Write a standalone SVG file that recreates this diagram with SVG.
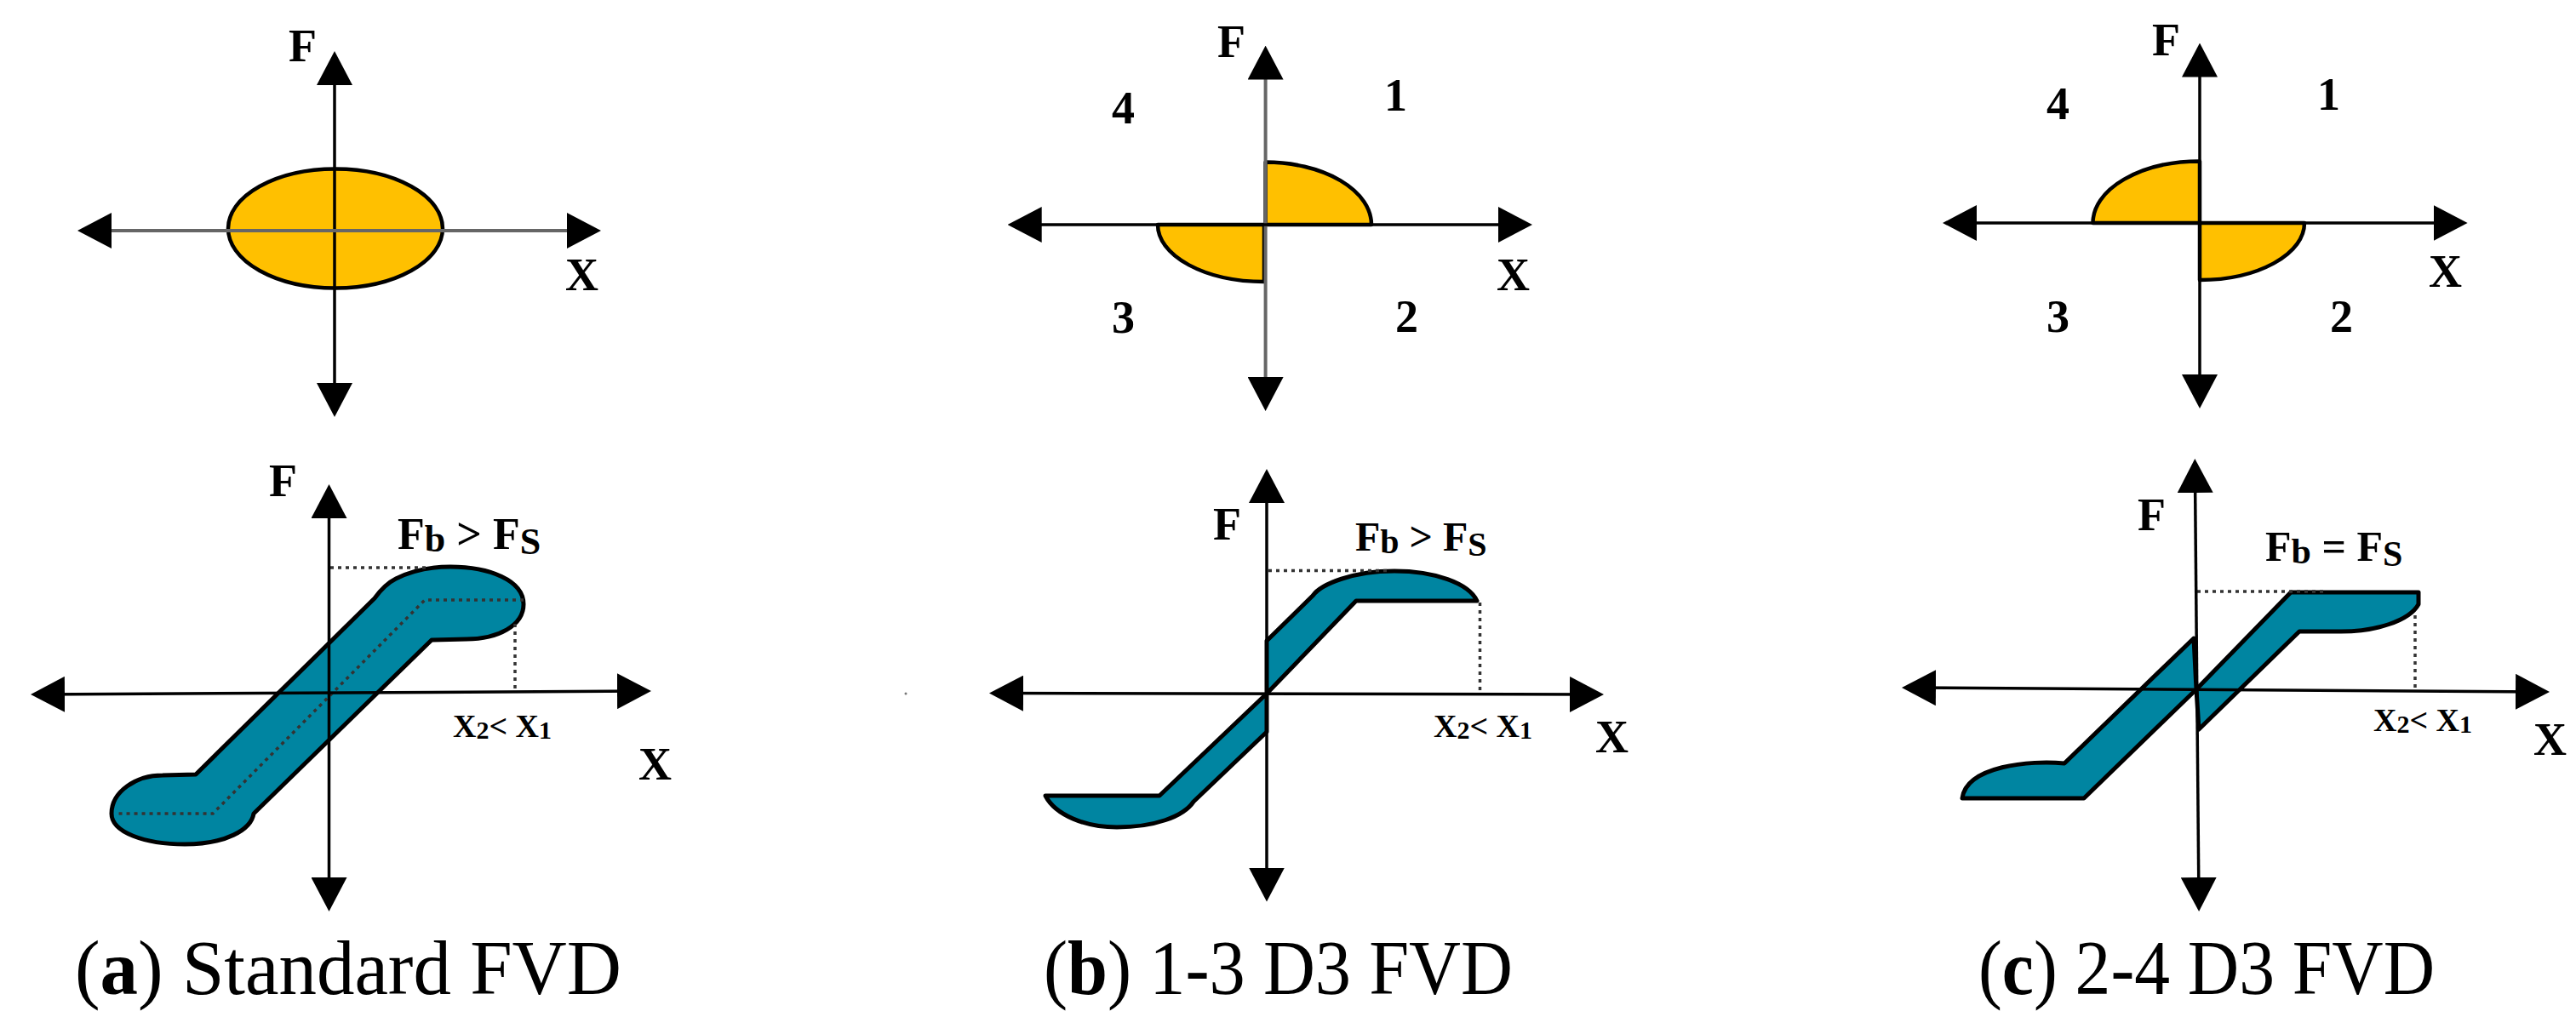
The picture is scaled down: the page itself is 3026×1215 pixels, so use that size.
<svg xmlns="http://www.w3.org/2000/svg" width="3026" height="1215" viewBox="0 0 3026 1215">
<style>
text{font-family:"Liberation Serif","Times New Roman",serif;fill:#000}
.lb{font-size:54px;font-weight:700}
.eq{font-size:52px;font-weight:700}
.eq .s{font-size:44px}
.x{font-size:38px;font-weight:700}
.x .s{font-size:30px}
.cap{font-size:90px}
.cap .b{font-weight:700}
.ax{fill:none;stroke:#000;stroke-width:3.5;marker-start:url(#ah);marker-end:url(#ah)}
.ax.g{stroke:#666;stroke-width:4}
.or{fill:#FFC000;stroke:#000;stroke-width:4.5;stroke-linejoin:round}
.te{fill:#0085A1;stroke:#000;stroke-width:5;stroke-linejoin:round}
.dot{fill:none;stroke:#333;stroke-width:3.5;stroke-dasharray:4 5}
</style>
<defs>
<marker id="ah" markerUnits="userSpaceOnUse" markerWidth="40" markerHeight="42" viewBox="0 0 40 42" refX="30" refY="21" orient="auto-start-reverse"><path d="M0,0L40,21L0,42Z" fill="#000"/></marker>
</defs>

<g id="panel-a-top">
<ellipse class="or" cx="394" cy="268.500" rx="126" ry="70"/>
<g class="connectors"><line class="ax" x1="393" y1="70" x2="393" y2="480"/><line class="ax g" x1="101" y1="271" x2="696" y2="271"/></g>
<text class="lb" x="339" y="72">F</text>
<text class="lb" x="664" y="341">X</text>
</g>

<g id="panel-a-bottom">
<path class="te" d="M440,703C448,692 455,685 465,680C485,670 505,666 529,666C575,666 615,682 615,710C615,735 585,751 548,751L507,752L298,956C295,975 265,992 217,992C170,992 131,978 131,956C131,930 160,911 191,911L230,910Z"/>
<path class="dot" d="M615,705H499L250,956H139"/>
<path class="dot" d="M388,667H504M605,733V810"/>
<g class="connectors"><line class="ax" x1="386.500" y1="579" x2="386.500" y2="1061"/><line class="ax" x1="46" y1="816" x2="755" y2="812"/></g>
<text class="lb" x="316" y="583">F</text>
<text class="eq" x="467" y="645">F<tspan class="s" dy="3">b</tspan><tspan dy="-3"> &gt; F</tspan><tspan class="s" dy="6">S</tspan></text>
<text class="x" x="532" y="866">X<tspan class="s" dy="2">2</tspan><tspan dy="-2">&lt; X</tspan><tspan class="s" dy="2">1</tspan></text>
<text class="lb" x="750" y="916">X</text>
<text class="cap" x="88" y="1168" textLength="642" lengthAdjust="spacingAndGlyphs">(<tspan class="b">a</tspan>) Standard FVD</text>
</g>

<g id="panel-b-top">
<path class="or" d="M1486.600,190.600A124.400,73.400 0 0 1 1611,264H1486.600Z"/>
<path class="or" d="M1360,264A125,67 0 0 0 1485,331V264Z"/>
<g class="connectors"><line class="ax g" x1="1486.600" y1="63.600" x2="1486.600" y2="473"/><line class="ax" x1="1193.700" y1="264" x2="1790" y2="264"/></g>
<text class="lb" x="1430" y="67">F</text>
<text class="lb" x="1626" y="130">1</text>
<text class="lb" x="1306" y="145">4</text>
<text class="lb" x="1306" y="391">3</text>
<text class="lb" x="1639" y="390">2</text>
<text class="lb" x="1758" y="340.500">X</text>
</g>

<g id="panel-b-bottom">
<path class="te" d="M1488,753L1542,700C1552,686 1590,671 1638,671C1685,671 1725,685 1735,706H1593L1488,815L1362,935H1228C1240,958 1275,972 1312,972C1355,972 1390,960 1402,942L1488,860Z"/>
<path class="dot" d="M1490,670.500H1631M1738.500,708V814"/>
<g class="connectors"><line class="ax" x1="1488" y1="561" x2="1488" y2="1049.500"/><line class="ax" x1="1172" y1="814.600" x2="1874" y2="816"/></g>
<text class="lb" x="1425" y="634">F</text>
<text class="eq" x="1592" y="647" style="font-size:48px">F<tspan class="s" dy="3" style="font-size:40px">b</tspan><tspan dy="-3"> &gt; F</tspan><tspan class="s" dy="6" style="font-size:40px">S</tspan></text>
<text class="x" x="1684" y="866">X<tspan class="s" dy="2">2</tspan><tspan dy="-2">&lt; X</tspan><tspan class="s" dy="2">1</tspan></text>
<text class="lb" x="1874" y="884">X</text>
<text class="cap" x="1226" y="1168" textLength="551" lengthAdjust="spacingAndGlyphs">(<tspan class="b">b</tspan>) 1-3 D3 FVD</text>
<circle cx="1064" cy="815" r="1.500" fill="#777"/>
</g>

<g id="panel-c-top">
<path class="or" d="M2458.500,262A125.500,72.600 0 0 1 2584,189.400V262Z"/>
<path class="or" d="M2707,262A123,67 0 0 1 2584,329V262Z"/>
<g class="connectors"><line class="ax" x1="2584" y1="60.500" x2="2584" y2="470"/><line class="ax" x1="2292" y1="262" x2="2888.600" y2="262"/></g>
<text class="lb" x="2528" y="65">F</text>
<text class="lb" x="2722" y="129">1</text>
<text class="lb" x="2404" y="140">4</text>
<text class="lb" x="2404" y="389.600">3</text>
<text class="lb" x="2737" y="389.600">2</text>
<text class="lb" x="2853" y="337">X</text>
</g>

<g id="panel-c-bottom">
<path class="te" d="M2577,750L2425,897C2385,893 2310,900 2305,938H2448L2580,810Z"/>
<path class="te" d="M2580,810L2691,696H2841V710C2830,730 2790,742 2750,742H2701L2583,857Z"/>
<path class="dot" d="M2581,695H2729M2837,723V810"/>
<g class="connectors"><line class="ax" x1="2578.400" y1="549" x2="2583" y2="1061"/><line class="ax" x1="2244" y1="808" x2="2985" y2="813"/></g>
<text class="lb" x="2511" y="623">F</text>
<text class="eq" x="2661" y="659" style="font-size:50px">F<tspan class="s" dy="3" style="font-size:42px">b</tspan><tspan dy="-3"> = F</tspan><tspan class="s" dy="6" style="font-size:42px">S</tspan></text>
<text class="x" x="2788" y="859">X<tspan class="s" dy="2">2</tspan><tspan dy="-2">&lt; X</tspan><tspan class="s" dy="2">1</tspan></text>
<text class="lb" x="2976" y="887">X</text>
<text class="cap" x="2324" y="1168" textLength="536" lengthAdjust="spacingAndGlyphs">(<tspan class="b">c</tspan>) 2-4 D3 FVD</text>
</g>
</svg>
